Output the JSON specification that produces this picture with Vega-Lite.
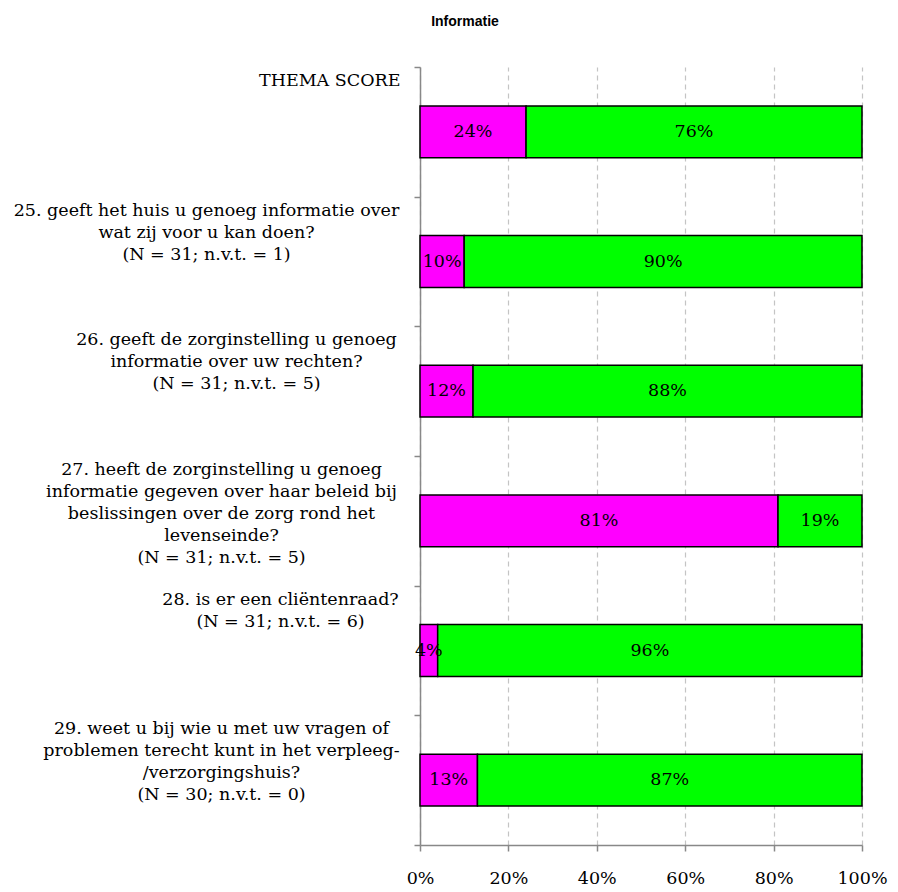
{
  "$schema": "https://vega.github.io/schema/vega-lite/v6.json",
  "autosize": {"type": "none"},
  "padding": {"left": 420, "top": 67, "right": 36, "bottom": 47},
  "width": 442,
  "height": 778,
  "background": "white",
  "config": {
    "view": {"stroke": null},
    "axisY": {
      "title": null,
      "labelFont": "DejaVu Serif",
      "labelFontSize": 17.5,
      "labelColor": "black",
      "labelLineHeight": 22,
      "labelLimit": 600,
      "labelOverlap": false,
      "labelBaseline": "top",
      "labelOffset": -60,
      "tickSize": 6
    }
  },
  "title": {
    "text": "Informatie",
    "font": "Liberation Sans",
    "fontSize": 14,
    "fontWeight": "bold",
    "color": "black",
    "anchor": "start",
    "frame": "group",
    "align": "center",
    "dx": 45,
    "baseline": "alphabetic",
    "offset": 26
  },
  "data": {
    "values": [
      {"vraag": "THEMA SCORE", "antwoord": "Negatief", "aandeel": 0.24},
      {"vraag": "THEMA SCORE", "antwoord": "Positief", "aandeel": 0.76},
      {"vraag": "25. geeft het huis u genoeg informatie over\nwat zij voor u kan doen?\n(N = 31; n.v.t. = 1)", "antwoord": "Negatief", "aandeel": 0.10},
      {"vraag": "25. geeft het huis u genoeg informatie over\nwat zij voor u kan doen?\n(N = 31; n.v.t. = 1)", "antwoord": "Positief", "aandeel": 0.90},
      {"vraag": "26. geeft de zorginstelling u genoeg\ninformatie over uw rechten?\n(N = 31; n.v.t. = 5)", "antwoord": "Negatief", "aandeel": 0.12},
      {"vraag": "26. geeft de zorginstelling u genoeg\ninformatie over uw rechten?\n(N = 31; n.v.t. = 5)", "antwoord": "Positief", "aandeel": 0.88},
      {"vraag": "27. heeft de zorginstelling u genoeg\ninformatie gegeven over haar beleid bij\nbeslissingen over de zorg rond het\nlevenseinde?\n(N = 31; n.v.t. = 5)", "antwoord": "Negatief", "aandeel": 0.81},
      {"vraag": "27. heeft de zorginstelling u genoeg\ninformatie gegeven over haar beleid bij\nbeslissingen over de zorg rond het\nlevenseinde?\n(N = 31; n.v.t. = 5)", "antwoord": "Positief", "aandeel": 0.19},
      {"vraag": "28. is er een cliëntenraad?\n(N = 31; n.v.t. = 6)", "antwoord": "Negatief", "aandeel": 0.04},
      {"vraag": "28. is er een cliëntenraad?\n(N = 31; n.v.t. = 6)", "antwoord": "Positief", "aandeel": 0.96},
      {"vraag": "29. weet u bij wie u met uw vragen of\nproblemen terecht kunt in het verpleeg-\n/verzorgingshuis?\n(N = 30; n.v.t. = 0)", "antwoord": "Negatief", "aandeel": 0.13},
      {"vraag": "29. weet u bij wie u met uw vragen of\nproblemen terecht kunt in het verpleeg-\n/verzorgingshuis?\n(N = 30; n.v.t. = 0)", "antwoord": "Positief", "aandeel": 0.87}
    ]
  },
  "layer": [
    {
      "mark": {"type": "bar", "stroke": "black", "strokeWidth": 1.5, "height": {"band": 0.4}},
      "encoding": {
        "y": {
          "field": "vraag",
          "type": "nominal",
          "sort": null,
          "scale": {"paddingInner": 0, "paddingOuter": 0},
          "axis": {
            "orient": "left",
            "domainColor": "#888888",
            "domainWidth": 1.5,
            "tickColor": "#888888",
            "tickWidth": 1.5,
            "tickBand": "extent",
            "labelAlign": "right",
            "labelPadding": 14,
            "labelExpr": "indexof(datum.label, 'THEMA') == 0 ? datum.label : ''"
          }
        },
        "x": {
          "field": "aandeel",
          "type": "quantitative",
          "stack": "zero",
          "scale": {"domain": [0, 1], "nice": false},
          "axis": {
            "title": null,
            "values": [0, 0.2, 0.4, 0.6, 0.8, 1],
            "format": ".0%",
            "grid": true,
            "gridDash": [5, 4],
            "gridColor": "#c4c4c4",
            "gridWidth": 1.2,
            "domainColor": "#888888",
            "domainWidth": 1.5,
            "tickColor": "#888888",
            "tickWidth": 1.5,
            "tickSize": 6,
            "labelFont": "DejaVu Serif",
            "labelFontSize": 17.5,
            "labelColor": "black",
            "labelPadding": 18,
            "labelFlush": false
          }
        },
        "order": {"field": "antwoord", "sort": "ascending"},
        "color": {
          "field": "antwoord",
          "type": "nominal",
          "scale": {"domain": ["Negatief", "Positief"], "range": ["#ff00ff", "#00ff00"]},
          "legend": null
        }
      }
    },
    {
      "transform": [{"filter": "datum.antwoord == 'Negatief'"}],
      "mark": {"type": "text", "font": "DejaVu Serif", "fontSize": 17.5, "color": "black", "align": "center", "baseline": "middle"},
      "encoding": {
        "y": {
          "field": "vraag",
          "type": "nominal",
          "sort": null,
          "axis": {
            "orient": "left",
            "domain": false,
            "ticks": false,
            "labelAlign": "center",
            "labelPadding": 214,
            "labelExpr": "indexof(datum.label, '25.') == 0 ? split(datum.label, '\\n') : ''"
          }
        },
        "x": {"field": "aandeel", "type": "quantitative", "scale": {"domain": [0, 2], "nice": false}, "axis": null},
        "text": {"field": "aandeel", "type": "quantitative", "format": ".0%"}
      }
    },
    {
      "transform": [{"filter": "datum.antwoord == 'Positief'"}],
      "mark": {"type": "text", "font": "DejaVu Serif", "fontSize": 17.5, "color": "black", "align": "center", "baseline": "middle"},
      "encoding": {
        "y": {
          "field": "vraag",
          "type": "nominal",
          "sort": null,
          "axis": {
            "orient": "left",
            "domain": false,
            "ticks": false,
            "labelAlign": "center",
            "labelPadding": 184,
            "labelExpr": "indexof(datum.label, '26.') == 0 ? split(datum.label, '\\n') : ''"
          }
        },
        "x": {"field": "aandeel", "type": "quantitative", "scale": {"domain": [0, 2], "nice": false, "reverse": true}, "axis": null},
        "text": {"field": "aandeel", "type": "quantitative", "format": ".0%"}
      }
    },
    {
      "transform": [{"filter": "datum.antwoord == 'Positief'"}],
      "mark": {"type": "point", "opacity": 0},
      "encoding": {
        "y": {
          "field": "vraag",
          "type": "nominal",
          "sort": null,
          "axis": {
            "orient": "left",
            "domain": false,
            "ticks": false,
            "labelAlign": "center",
            "labelPadding": 199,
            "labelExpr": "indexof(datum.label, '27.') == 0 || indexof(datum.label, '29.') == 0 ? split(datum.label, '\\n') : ''"
          }
        }
      }
    },
    {
      "transform": [{"filter": "datum.antwoord == 'Negatief'"}],
      "mark": {"type": "point", "opacity": 0},
      "encoding": {
        "y": {
          "field": "vraag",
          "type": "nominal",
          "sort": null,
          "axis": {
            "orient": "left",
            "domain": false,
            "ticks": false,
            "labelAlign": "center",
            "labelPadding": 140,
            "labelExpr": "indexof(datum.label, '28.') == 0 ? split(datum.label, '\\n') : ''"
          }
        }
      }
    }
  ],
  "resolve": {"scale": {"x": "independent"}, "axis": {"y": "independent"}}
}
